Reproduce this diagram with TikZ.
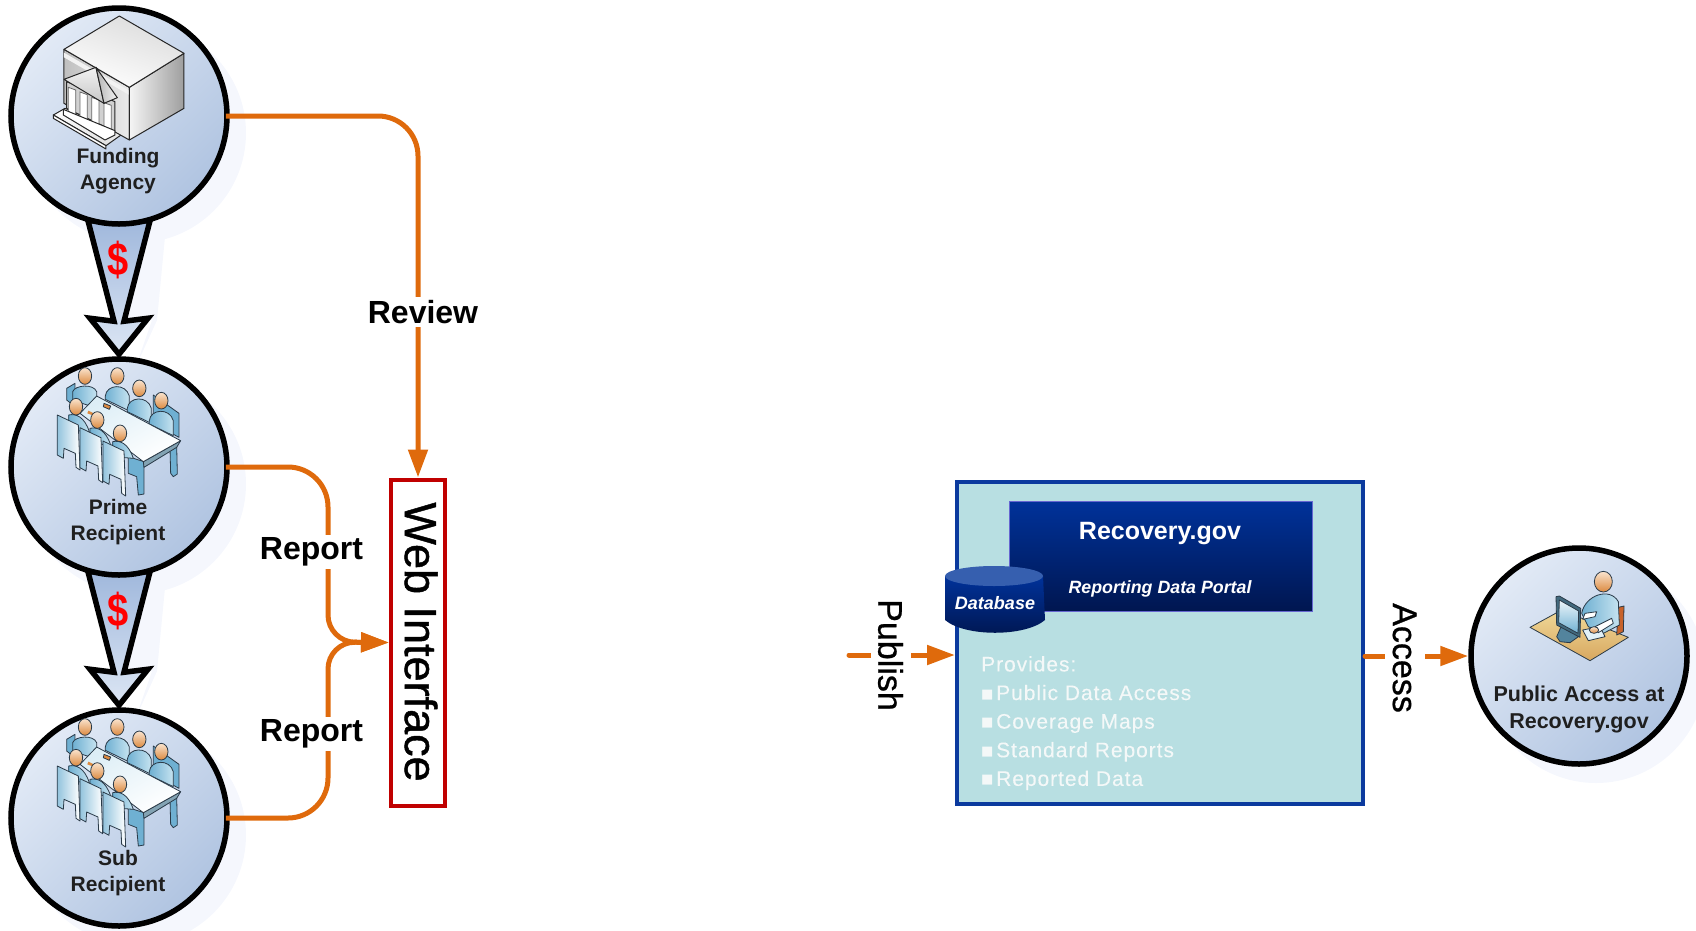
\documentclass[tikz,border=0pt]{standalone}
\usepackage{fontspec}
\usepackage{graphicx}
\setmainfont{Liberation Sans}
\newfontfamily\bulletfont{DejaVu Sans}
\usetikzlibrary{arrows.meta,calc}
\pgfdeclarelayer{bg}
\pgfsetlayers{bg,main}
\definecolor{flowc}{HTML}{DF6A0C}
\definecolor{shadowc}{HTML}{F5F7FD}
\definecolor{discA}{HTML}{E2EAF6}
\definecolor{discB}{HTML}{B0C4E1}
\definecolor{redb}{HTML}{C00000}
\definecolor{boxc}{HTML}{B8DFE2}
\definecolor{boxb}{HTML}{0B3A9E}
\definecolor{hdrA}{HTML}{00329A}
\definecolor{hdrB}{HTML}{001650}
\definecolor{dbtop}{HTML}{365FAF}
\definecolor{pale}{HTML}{F4F8F8}
\definecolor{iconline}{HTML}{2A3A48}
\definecolor{bodyA}{HTML}{C6E3F0}
\definecolor{bodyB}{HTML}{6FB0D2}
\definecolor{skinA}{HTML}{FAE4CE}
\definecolor{skinB}{HTML}{DC8A40}
\definecolor{bigA}{HTML}{A0B8DC}
\definecolor{bigB}{HTML}{DCE6F4}
\definecolor{deskA}{HTML}{F0D898}
\definecolor{deskB}{HTML}{D8A860}
\definecolor{seatc}{HTML}{C8622A}
\newcommand{\fsz}[2]{\fontsize{#1}{#2}\selectfont}
\newcommand{\blt}{\makebox[15pt][l]{\raisebox{2pt}{\scalebox{.62}{\bulletfont ■}}}}
\tikzset{
  agent/.style={circle,draw=black,line width=5.5pt,minimum size=216pt,inner sep=0pt,
    top color=discA,bottom color=discB,shading angle=45},
  captext/.style={align=center,font=\fsz{21}{26}\bfseries,text=black!88,inner sep=0pt},
  flow/.style={draw=flowc,line width=5pt,-{Triangle[length=28pt,width=19pt]}},
  flowdot/.style={flow,line cap=round},
  flowlabel/.style={font=\fsz{32}{36}\bfseries,fill=white,inner sep=3pt},
  sidelabel/.style={font=\fsz{34}{38}\addfontfeature{FakeBold=0.8},fill=white,inner sep=2pt,minimum height=40pt,rotate=-90},
  bigflow/.style={draw=black,line width=5.5pt,line join=miter,miter limit=10,top color=bigA,bottom color=bigB},
  money/.style={font=\fsz{38}{40}\bfseries,text=red,inner sep=0pt},
  iconl/.style={draw=iconline,line width=.8pt,line join=round},
  bodyf/.style={iconl,left color=bodyB,right color=bodyA},
  chairf/.style={iconl,left color=bodyB!75,right color=white},
  headf/.style={iconl,top color=skinA,bottom color=skinB},
  grayl/.style={draw=black!85,line width=1pt,line join=round},
  meeting/.pic={
    % back chairs and people
    \path[iconl,fill=bodyB] (200,115)--(225,100)--(225,170)--(200,150)--cycle;
    \path[bodyf] (218,125)..controls (225,105) and (280,100) ..(290,125)--(290,175)--(218,150)--cycle;
    \path[headf] (255,78) ellipse [x radius=20,y radius=25];
    \path[iconl,fill=bodyB] (460,135)--(537,190)--(537,262)--(460,220)--cycle;
    \foreach \hx/\hy in {352/78,418/115,484/152}{
      \path[bodyf] (\hx-36,\hy+60)..controls (\hx-33,\hy+25) and (\hx+25,\hy+20)..(\hx+36,\hy+60)--(\hx+36,\hy+105)--(\hx-36,\hy+70)--cycle;
      \path[headf] (\hx,\hy) ellipse [x radius=20,y radius=25];
    }
    % table
    \path[iconl,fill=bodyB] (510,295)--(530,285)--(532,372)--(520,380)--(512,370)--cycle;
    \path[iconl,fill=bodyB] (385,320)--(432,335)--(432,432)--(415,435)--(410,380)--(385,370)--cycle;
    \path[iconl,fill=bodyB!70!black!70!white] (430,335)--(542,272)--(530,292)--(432,352)--cycle;
    \path[iconl,top color=bodyA!60,bottom color=white,shading angle=30] (290,138)--(542,272)--(430,335)--(240,190)--cycle;
    \path[fill=skinB,iconl] (312,160)--(332,168)--(328,178)--(310,170)--cycle;
    \path[fill=skinB] (265,182)--(282,190)--(278,196)--(262,190)--cycle;
    % front people and chairs
    \foreach \hx/\hy/\cx/\cy in {228/170/0/0,292/210/68/38,360/250/137/78}{
      \path[bodyf] (\hx-22,\hy+25)..controls (\hx,\hy+20) and (\hx+25,\hy+30)..(\hx+40,\hy+75)--(\hx-22,\hy+70)--cycle;
      \path[headf] (\hx,\hy) ellipse [x radius=20,y radius=25];
      \path[chairf] (172+\cx,195+\cy)--(235+\cx,225+\cy)--(240+\cx,360+\cy)--(228+\cx,352+\cy)--(226+\cx,310+\cy)--(192+\cx,295+\cy)--(190+\cx,325+\cy)--(172+\cx,315+\cy)--cycle;
    }
  },
}
\begin{document}
\begin{tikzpicture}[x=1pt,y=-1pt]
\useasboundingbox (0,0) rectangle (1696,930);
% discs
\node[agent] (fund) at (119,116) {};
\node[agent] (prime) at (119,467) {};
\node[agent] (sub) at (119,818) {};
\node[agent] (public) at (1579,656) {};
\begin{pgfonlayer}{bg}
  \foreach \n in {fund,prime,sub,public}{
    \fill[shadowc] ($(\n)+(17,17)$) circle (110pt);
  }
  \foreach \a/\b in {fund/prime,prime/sub}{
    \fill[shadowc] ($(\a.south)+(10,10)$) -- ($(\b.north)+(7,-36)$) -- ($(\b.north)+(33,-36)$) -- ($(\b.north)+(17,10)$) -- ($(\b.north)+(38,-36)$) -- ($(\a.south)+(46,10)$) -- cycle;
    \path[bigflow] ($(\a.south)+(-31,-6)$) -- ($(\b.north)+(-5,-35)$) -- ($(\b.north)+(-29,-38)$) -- ($(\b.north)+(0,-2)$) -- ($(\b.north)+(29,-38)$) -- ($(\b.north)+(5,-35)$) -- ($(\a.south)+(31,-6)$) -- cycle;
  }
\end{pgfonlayer}
\node[money] (d1) at (118,260) {\scalebox{1}[1.22]{\$}};
\node[money] (d2) at (118,611) {\scalebox{1}[1.22]{\$}};
% web interface
\node[draw=redb,line width=4pt,fill=white,minimum width=326pt,minimum height=54pt,inner sep=0pt,rotate=-90] (web) at (418,642.5) {};
\node[inner sep=0pt,rotate=-90,font=\fsz{45}{48}\addfontfeature{FakeBold=1}] (tweb) at (421,642) {Web Interface};
% junction coordinates
\coordinate (j) at (328,642);
\coordinate (rv) at (418,116);
% connectors
\draw[flow,rounded corners=40pt] ([xshift=-4pt]fund.east) -- (rv) -- (web.west);
\draw[flow] ([xshift=-4pt]prime.east) [rounded corners=40pt] -- (j |- prime.east) [rounded corners=27pt] -- (j) [sharp corners] -- (web.south);
\draw[flow] ([xshift=-4pt]sub.east) [rounded corners=40pt] -- (j |- sub.east) [rounded corners=27pt] -- (j) [sharp corners] -- (web.south);
\node[flowlabel] (review) at (423,312) {Review};
\node[flowlabel] (rep1) at (311.5,552) {Report};
\node[flowlabel] (rep2) at (311.5,734) {Report};
% captions
\node[captext] (tfund) at (118,171.5) {Funding\\Agency};
\node[captext] (tprime) at (118,522) {Prime\\Recipient};
\node[captext] (tsub) at (118,873) {Sub\\Recipient};
\node[captext,font=\fsz{21.5}{27}\bfseries] (tpublic) at (1579,709.5) {Public Access at\\Recovery.gov};
% bank icon
\begin{scope}[scale=1/3]
  \path[grayl,top color=white,bottom color=black!12] (160,345)--(195,325)--(370,400)--(318,437)--cycle;
  \path[grayl,fill=white] (160,345)--(318,437)--(318,447)--(160,355)--cycle;
  \path[grayl,left color=black!25,right color=black!8] (192,148)--(388,262)--(388,420)--(192,310)--cycle;
  \path[fill=black!5] (192,158)--(388,272)--(388,285)--(192,172)--cycle;
  \path[grayl,left color=black!4,right color=black!38] (388,262)--(552,160)--(552,325)--(388,420)--cycle;
  \path[grayl,top color=black!14,bottom color=white,shading angle=-20] (358,48)--(552,160)--(388,262)--(192,148)--cycle;
  \path[grayl,fill=black!18] (200,245)--(345,305)--(345,395)--(200,325)--cycle;
  \foreach \cx/\cy in {205/0,240/14,275/30,312/46}{
    \path[draw=black!60,line width=.8pt,fill=white] (\cx,262+\cy)--(\cx+22,270+\cy)--(\cx+22,352+\cy)--(\cx,342+\cy)--cycle;
  }
  \path[grayl,fill=white] (190,328)--(345,392)--(345,405)--(315,420)--(190,345)--cycle;
  \path[grayl,top color=black!5,bottom color=black!22] (192,238)--(288,202)--(312,310)--cycle;
  \path[grayl,left color=black!30,right color=black!4] (288,202)--(352,293)--(312,310)--cycle;
\end{scope}
% meeting icons
\pic[scale=1/3] at (0,350) {meeting};
\pic[scale=1/3] at (0,701) {meeting};
% user icon
\begin{scope}[shift={(1340,530)},scale=1/3]
  \path[iconl,top color=deskA,bottom color=deskB] (570,292)--(665,240)--(865,322)--(750,392)--cycle;
  \path[iconl,fill=seatc] (835,232)--(852,228)--(850,305)--(830,315)--cycle;
  \path[bodyf] (725,250)..controls (735,195) and (810,170)..(835,215)--(838,285)--(790,310)--(745,290)--cycle;
  \path[headf] (790,155) ellipse [x radius=27,y radius=31];
  \path[iconl,fill=bodyA!50!white] (728,300)--(780,290)--(795,320)--(745,332)--cycle;
  \path[iconl,fill=white] (735,250)--(770,245)--(765,260)--(728,268)--cycle;
  \path[iconl,fill=white] (765,290)--(815,265)--(820,280)--(775,308)--cycle;
  \path[headf] (762,300) ellipse [x radius=14,y radius=10];
  \path[iconl,fill=bodyB!75!black] (650,320)--(672,270)--(690,290)--(715,320)--(690,338)--(660,335)--cycle;
  \path[iconl,fill=bodyB!60!black] (648,200)--(658,198)--(722,235)--(720,322)--(650,285)--cycle;
  \path[iconl,top color=bodyA!30,bottom color=bodyB] (658,210)--(716,243)--(714,310)--(656,278)--cycle;
\end{scope}
% reporting box
\node[draw=boxb,fill=boxc,line width=4pt,minimum width=406pt,minimum height=322pt,inner sep=0pt] (portal) at (1160,643) {};
\node[draw=black!30!blue!60!white,line width=.8pt,top color=hdrA,middle color=hdrA,bottom color=hdrB,minimum width=303pt,minimum height=110pt,inner sep=0pt] (header) at (1160.5,556) {};
\node[font=\fsz{25}{28}\bfseries,text=white,inner sep=0pt] (trec) at (1160,534) {Recovery.gov};
\node[font=\fsz{17.8}{20}\bfseries\itshape,text=white,inner sep=0pt] (tportal) at (1160,588.5) {Reporting Data Portal};
\path[top color=hdrA,middle color=hdrA,bottom color=hdrB] (945,576) -- (945,620) .. controls (965,637) and (1025,637) .. (1045,620) -- (1043,576) -- cycle;
\fill[dbtop] (994,576) ellipse [x radius=49,y radius=10];
\node[font=\fsz{18}{20}\bfseries\itshape,text=white,inner sep=0pt] (tdb) at (995,603) {Database};
\node[anchor=north west,align=left,inner sep=0pt,text=pale,font=\fsz{21}{28.6}\addfontfeature{LetterSpace=4.5,FakeBold=0.2}] (provides) at (981,656) {Provides:\\\blt Public Data Access\\\blt Coverage Maps\\\blt Standard Reports\\\blt Reported Data};
% publish / access
\coordinate (pubstart) at (849,655);
\draw[flowdot] (pubstart) -- (portal.west |- pubstart);
\node[sidelabel] (tpub) at (890.5,655) {Publish};
\draw[flowdot] (portal.east |- public.west) -- (public.west);
\node[sidelabel] (tacc) at (1404.5,658) {Access};
\end{tikzpicture}
\end{document}
